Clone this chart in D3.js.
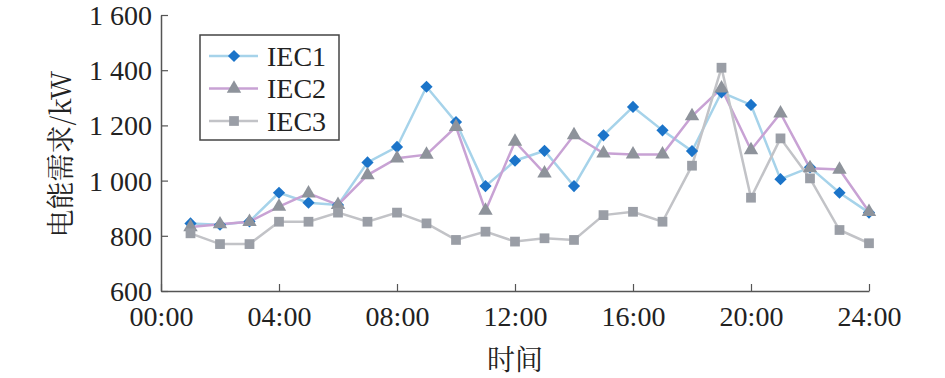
<!DOCTYPE html>
<html>
<head>
<meta charset="utf-8">
<script src="https://cdn.jsdelivr.net/npm/d3@7"></script>
<style>
  body { margin: 0; background: #fff; }
</style>
</head>
<body>
<div id="chart"></div>
<script>
// hours 1..24
const hours = d3.range(1, 25);
const iec1 = [845, 840, 852, 956, 920, 912, 1066, 1122, 1340, 1212, 980, 1072,
  1108, 980, 1164, 1267, 1182, 1107, 1320, 1274, 1005, 1048, 956, 884];
const iec2 = [832, 842, 851, 906, 954, 912, 1020, 1081, 1094, 1195, 891, 1141,
  1026, 1165, 1099, 1095, 1095, 1234, 1334, 1111, 1244, 1045, 1040, 887];
const iec3 = [809, 770, 770, 851, 851, 884, 851, 884, 845, 785, 815, 779,
  791, 785, 875, 887, 851, 1054, 1409, 938, 1153, 1008, 821, 773];
const xTicks = [0, 4, 8, 12, 16, 20, 24];
const yTicks = [600, 800, 1000, 1200, 1400, 1600];

// single family names only, lists fall back to sans here
const serif = "'Liberation Serif'";
const cjk = "'Noto Serif CJK SC'";

const series = [
  { name: "IEC1", values: iec1, line: "#a6d3ea", marker: "#1b74c9", shape: d3.symbolDiamond2, size: 95 },
  { name: "IEC2", values: iec2, line: "#c8a2d4", marker: "#8e939b", shape: d3.symbolTriangle, size: 90 },
  { name: "IEC3", values: iec3, line: "#c2c3c7", marker: "#9a9ea6", shape: d3.symbolSquare, size: 95 }
];

const width = 945, height = 378;
const margin = { left: 161, right: 76, top: 15, bottom: 87 };

const svg = d3.select("#chart").append("svg")
  .attr("width", width).attr("height", height);

const x = d3.scaleLinear().domain([0, 24]).range([margin.left, width - margin.right]);
const y = d3.scaleLinear().domain([600, 1600]).range([height - margin.bottom, margin.top]);

const fmtY = (d) => d >= 1000 ? Math.floor(d / 1000) + " " + d3.format("03d")(d % 1000) : d;
const fmtX = (d) => d3.format("02d")(d) + ":00";

// axes
const xAxis = svg.append("g")
  .attr("transform", `translate(0,${y(600)})`)
  .call(d3.axisBottom(x).tickValues(xTicks).tickFormat(fmtX).tickSizeInner(-7).tickSizeOuter(0).tickPadding(15));
const yAxis = svg.append("g")
  .attr("transform", `translate(${x(0)},0)`)
  .call(d3.axisLeft(y).tickValues(yTicks).tickFormat(fmtY).tickSizeInner(-7).tickSizeOuter(0).tickPadding(9));

[xAxis, yAxis].forEach((a) => {
  a.attr("font-family", null).attr("font-size", null);
  a.select(".domain").attr("stroke", "#555").attr("stroke-width", 1.5);
  a.selectAll(".tick line").attr("stroke", "#555").attr("stroke-width", 1.2);
  a.selectAll("text").style("font-size", "28px").style("font-family", serif).attr("fill", "#222");
});
xAxis.selectAll("text").attr("dy", "0.71em");
yAxis.selectAll("text").attr("dy", "0.34em");

// axis titles
svg.append("text")
  .attr("x", x(12)).attr("y", 370)
  .attr("text-anchor", "middle")
  .style("font-size", "28px").style("font-family", cjk).attr("fill", "#222")
  .text("时间");
svg.append("text")
  .attr("transform", `translate(71,${y(1096)}) rotate(-90)`)
  .attr("text-anchor", "middle")
  .style("font-size", "28px").style("font-family", cjk).attr("fill", "#222")
  .text("电能需求/kW");

// lines and markers
const line = d3.line().x((d, i) => x(hours[i])).y((d) => y(d));
series.forEach((s) => {
  svg.append("path")
    .datum(s.values)
    .attr("fill", "none")
    .attr("stroke", s.line)
    .attr("stroke-width", 2.5)
    .attr("d", line);
});
series.forEach((s) => {
  svg.append("g").selectAll("path")
    .data(s.values)
    .join("path")
    .attr("transform", (d, i) => `translate(${x(hours[i])},${y(d)})`)
    .attr("d", d3.symbol().type(s.shape).size(s.size))
    .attr("fill", s.marker);
});

// legend
const lg = svg.append("g").attr("transform", "translate(200,35)");
lg.append("rect").attr("width", 139).attr("height", 105)
  .attr("fill", "#fff").attr("stroke", "#444").attr("stroke-width", 1.5);
series.forEach((s, i) => {
  const row = lg.append("g").attr("transform", `translate(0,${21 + i * 32.5})`);
  row.append("line").attr("x1", 9).attr("x2", 58)
    .attr("stroke", s.line).attr("stroke-width", 2.5);
  row.append("path").attr("transform", "translate(34,0)")
    .attr("d", d3.symbol().type(s.shape).size(s.size)).attr("fill", s.marker);
  row.append("text").attr("x", 67).attr("dy", "0.34em")
    .style("font-size", "28px").style("font-family", serif).attr("fill", "#222")
    .text(s.name);
});
</script>
</body>
</html>
